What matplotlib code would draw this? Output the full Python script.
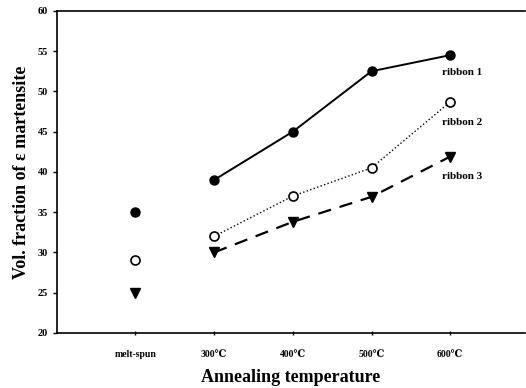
import matplotlib
matplotlib.use("Agg")
import matplotlib.pyplot as plt

plt.rcParams['font.family'] = ['Liberation Serif', 'DejaVu Serif']

# Data
categories = ["melt-spun", "300\u2103", "400\u2103", "500\u2103", "600\u2103"]
ribbon1 = [35, 39, 45, 52.5, 54.5]
ribbon2 = [29, 32, 37, 40.5, 48.7]
ribbon3 = [25, 30, 33.8, 36.9, 41.9]
labels = ["ribbon 1", "ribbon 2", "ribbon 3"]
label_y = [52.4, 46.1, 39.4]

fig = plt.figure(figsize=(5.26, 3.88), dpi=100)
ax = fig.add_axes([0.108, 0.142, 0.89, 0.830])

x = list(range(len(categories)))

# melt-spun points are not connected to the annealed ones
ax.plot(x[0], ribbon1[0], 'o', color='black', ms=6.5)
ax.plot(x[0], ribbon2[0], 'o', mfc='white', mec='black', mew=1.2, ms=6.5)
ax.plot(x[0], ribbon3[0], 'v', color='black', ms=6.5)

ax.plot(x[1:], ribbon1[1:], '-o', color='black', lw=1.4, ms=6.5)
ax.plot(x[1:], ribbon2[1:], ':o', color='black', lw=1.0, ms=6.5, mfc='white', mew=1.2)
ax.plot(x[1:], ribbon3[1:], '--v', color='black', lw=1.6, ms=6.5, dashes=(6, 4))

for lab, yy in zip(labels, label_y):
    ax.text(3.9, yy, lab, fontsize=8, fontweight='bold', va='center', ha='left')

ax.set_xlim(-1, 4.95)
ax.set_ylim(20, 60)
ax.set_xticks(x)
ax.set_xticklabels(categories, fontsize=7, fontweight='bold')
ax.set_yticks(range(20, 61, 5))
ax.set_yticklabels([str(v) for v in range(20, 61, 5)], fontsize=7.5, fontweight='bold')
ax.tick_params(axis='y', length=3, width=1)
ax.tick_params(axis='x', length=3, width=1, direction='inout', pad=11)

ax.spines['right'].set_visible(False)
for s in ['left', 'bottom', 'top']:
    ax.spines[s].set_linewidth(1.2)

ax.set_xlabel("Annealing temperature", fontsize=13, fontweight='bold', labelpad=7)
ax.set_ylabel("Vol. fraction of \u03b5 martensite", fontsize=13, fontweight='bold', labelpad=5)

fig.savefig("out.png", dpi=100)
